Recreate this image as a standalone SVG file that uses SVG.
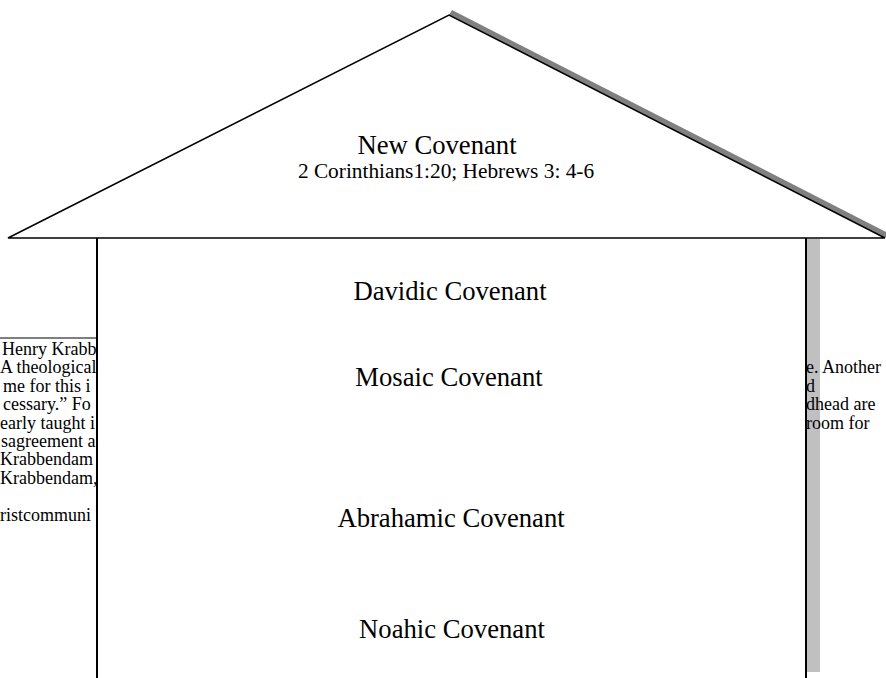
<svg xmlns="http://www.w3.org/2000/svg" width="886" height="678" viewBox="0 0 886 678">
<style>
.bg{font-family:"Liberation Serif","Times New Roman",serif;font-size:18px;fill:#000}
.lbl{font-family:"Liberation Serif","Times New Roman",serif;font-size:26.67px;fill:#000;text-anchor:middle}
.sub{font-family:"Liberation Serif","Times New Roman",serif;font-size:21.33px;fill:#000;text-anchor:middle}
.wall{stroke:#000;stroke-width:2;fill:none}
</style>
<rect width="886" height="678" fill="#fff"/>
<g id="shadows">
<rect x="807" y="239" width="13" height="433" fill="#c0c0c0"/>
<polygon points="449,15 452,10 888,233 885,238" fill="#808080"/>
</g>
<g id="background-text" class="bg">
<line x1="0" y1="338" x2="97" y2="338" stroke="#000" stroke-width="1"/>
<text x="2" y="355">Henry Krabb</text>
<text x="0" y="373.4">A theological</text>
<text x="3" y="391.8">me for this i</text>
<text x="3" y="410.2">cessary.” Fo</text>
<text x="0" y="428.6">early taught i</text>
<text x="1" y="447">sagreement a</text>
<text x="0" y="465.4">Krabbendam</text>
<text x="0" y="483.8">Krabbendam,</text>
<text x="0" y="520.6">ristcommuni</text>
<text x="806" y="373.4">e. Another</text>
<text x="806" y="391.8">d</text>
<text x="806" y="410.2">dhead are</text>
<text x="806" y="428.6">room for</text>
</g>
<g id="house-body">
<rect x="97" y="238" width="709" height="440" fill="#fff"/>
<line class="wall" x1="97" y1="238" x2="97" y2="678"/>
<line class="wall" x1="806" y1="238" x2="806" y2="678"/>
</g>
<g id="roof">
<polygon points="8,238 449,15 885,238" fill="#fff" stroke="#000" stroke-width="1.5" stroke-linejoin="miter"/>
</g>
<g id="new-covenant">
<text class="lbl" x="437" y="154">New Covenant</text>
<text class="sub" x="446" y="178">2 Corinthians1:20; Hebrews 3: 4-6</text>
</g>
<g id="davidic-covenant"><text class="lbl" x="450" y="300">Davidic Covenant</text></g>
<g id="mosaic-covenant"><text class="lbl" x="449" y="386">Mosaic Covenant</text></g>
<g id="abrahamic-covenant"><text class="lbl" x="451" y="527">Abrahamic Covenant</text></g>
<g id="noahic-covenant"><text class="lbl" x="452" y="638">Noahic Covenant</text></g>
<g id="connectors"></g>
</svg>
